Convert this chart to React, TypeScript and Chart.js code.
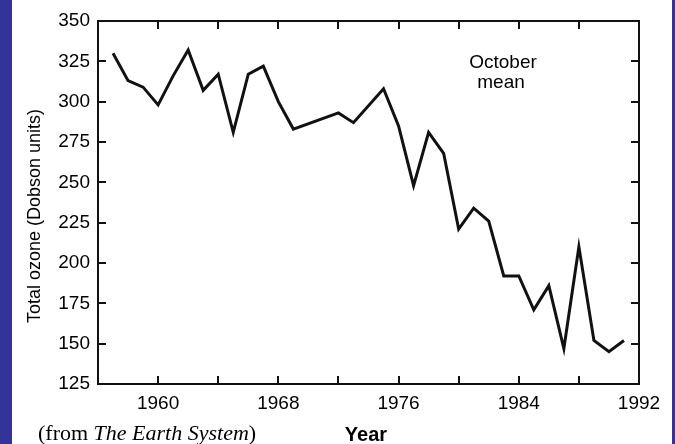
import React, { useEffect, useRef } from "react";
import { Chart, registerables } from "chart.js";

Chart.register(...registerables);

const years = [1957, 1958, 1959, 1960, 1961, 1962, 1963, 1964, 1965, 1966, 1967, 1968, 1969, 1972, 1973, 1975, 1976, 1977, 1978, 1979, 1980, 1981, 1982, 1983, 1984, 1985, 1986, 1987, 1988, 1989, 1990, 1991];
const ozone = [330, 313, 309, 298, 316, 332, 307, 317, 281, 317, 322, 300, 283, 293, 287, 308, 285, 248, 281, 268, 221, 234, 226, 192, 192, 171, 186, 147, 210, 152, 145, 152];
const xTickLabels = [1960, 1968, 1976, 1984, 1992];
const yTitle = "Total ozone (Dobson units)";
const xTitle = "Year";
const noteLines = ["October", "mean"];
const captionParts = ["(from ", "The Earth System", ")"];

const SANS = '"Liberation Sans", Arial, Helvetica, sans-serif';
const SERIF = '"Liberation Serif", "Times New Roman", serif';

const framePlugin = {
  id: "frameAndText",
  beforeDraw(chart: any) {
    const ctx = chart.ctx;
    ctx.save();
    ctx.fillStyle = "#ffffff";
    ctx.fillRect(0, 0, chart.width, chart.height);
    ctx.fillStyle = "#333399";
    ctx.fillRect(0, 0, 12, chart.height);
    ctx.fillRect(chart.width - 3, 0, 3, chart.height);
    ctx.restore();
  },
  afterDraw(chart: any) {
    const { ctx, chartArea: a, scales } = chart;
    ctx.save();
    ctx.strokeStyle = "#111111";
    ctx.lineWidth = 2;
    ctx.strokeRect(a.left, a.top, a.right - a.left, a.bottom - a.top);
    const L = 8;
    ctx.beginPath();
    scales.x.ticks.forEach((t: any) => {
      const px = Math.round(scales.x.getPixelForValue(t.value));
      if (px <= a.left + 2 || px >= a.right - 2) return;
      ctx.moveTo(px, a.bottom);
      ctx.lineTo(px, a.bottom - L);
      ctx.moveTo(px, a.top);
      ctx.lineTo(px, a.top + L);
    });
    scales.y.ticks.forEach((t: any) => {
      const py = Math.round(scales.y.getPixelForValue(t.value));
      if (py <= a.top + 2 || py >= a.bottom - 2) return;
      ctx.moveTo(a.left, py);
      ctx.lineTo(a.left + L, py);
      ctx.moveTo(a.right, py);
      ctx.lineTo(a.right - L, py);
    });
    ctx.stroke();

    ctx.fillStyle = "#000000";
    // y title
    ctx.save();
    ctx.translate(35, 216);
    ctx.rotate(-Math.PI / 2);
    ctx.font = "18px " + SANS;
    ctx.textAlign = "center";
    ctx.textBaseline = "middle";
    ctx.fillText(yTitle, 0, 0);
    ctx.restore();

    // x title
    ctx.font = "bold 20px " + SANS;
    ctx.textAlign = "center";
    ctx.textBaseline = "alphabetic";
    ctx.fillText(xTitle, 366, 441);

    // note
    ctx.font = "19px " + SANS;
    ctx.fillText(noteLines[0], 503, 68);
    ctx.fillText(noteLines[1], 501, 88);

    // caption
    ctx.textAlign = "left";
    let cx = 38;
    ctx.font = "22px " + SERIF;
    ctx.fillText(captionParts[0], cx, 440);
    cx += ctx.measureText(captionParts[0]).width;
    ctx.font = "italic 22px " + SERIF;
    ctx.fillText(captionParts[1], cx, 440);
    cx += ctx.measureText(captionParts[1]).width;
    ctx.font = "22px " + SERIF;
    ctx.fillText(captionParts[2], cx, 440);
    ctx.restore();
  },
};

export default function App() {
  const ref = useRef<HTMLCanvasElement | null>(null);
  useEffect(() => {
    if (!ref.current) return;
    const chart = new Chart(ref.current, {
      type: "line",
      data: {
        datasets: [
          {
            data: years.map((y, i) => ({ x: y, y: ozone[i] })),
            borderColor: "#111111",
            borderWidth: 3,
            pointRadius: 0,
            tension: 0,
            fill: false,
            borderJoinStyle: "miter",
          },
        ],
      },
      options: {
        animation: false,
        responsive: false,
        devicePixelRatio: 1,
        layout: { padding: { left: 0, top: 21, right: 36, bottom: 0 } },
        plugins: { legend: { display: false }, tooltip: { enabled: false } },
        scales: {
          x: {
            type: "linear",
            min: 1956,
            max: 1992,
            grid: { display: false, drawTicks: false },
            border: { display: false },
            afterFit: (s: any) => {
              s.height = 60;
            },
            ticks: {
              stepSize: 4,
              padding: 8,
              maxRotation: 0,
              autoSkip: false,
              color: "#000000",
              font: { family: SANS, size: 19 },
              callback: (v: any) => (xTickLabels.includes(Number(v)) ? String(v) : ""),
            },
          },
          y: {
            min: 125,
            max: 350,
            grid: { display: false, drawTicks: false },
            border: { display: false },
            afterFit: (s: any) => {
              s.width = 98;
            },
            ticks: {
              stepSize: 25,
              padding: 8,
              color: "#000000",
              font: { family: SANS, size: 19 },
            },
          },
        },
      },
      plugins: [framePlugin],
    } as any);
    return () => chart.destroy();
  }, []);
  return (
    <div style={{ position: "fixed", left: 0, top: 0, width: 675, height: 444 }}>
      <canvas ref={ref} width={675} height={444} style={{ display: "block" }} />
    </div>
  );
}
